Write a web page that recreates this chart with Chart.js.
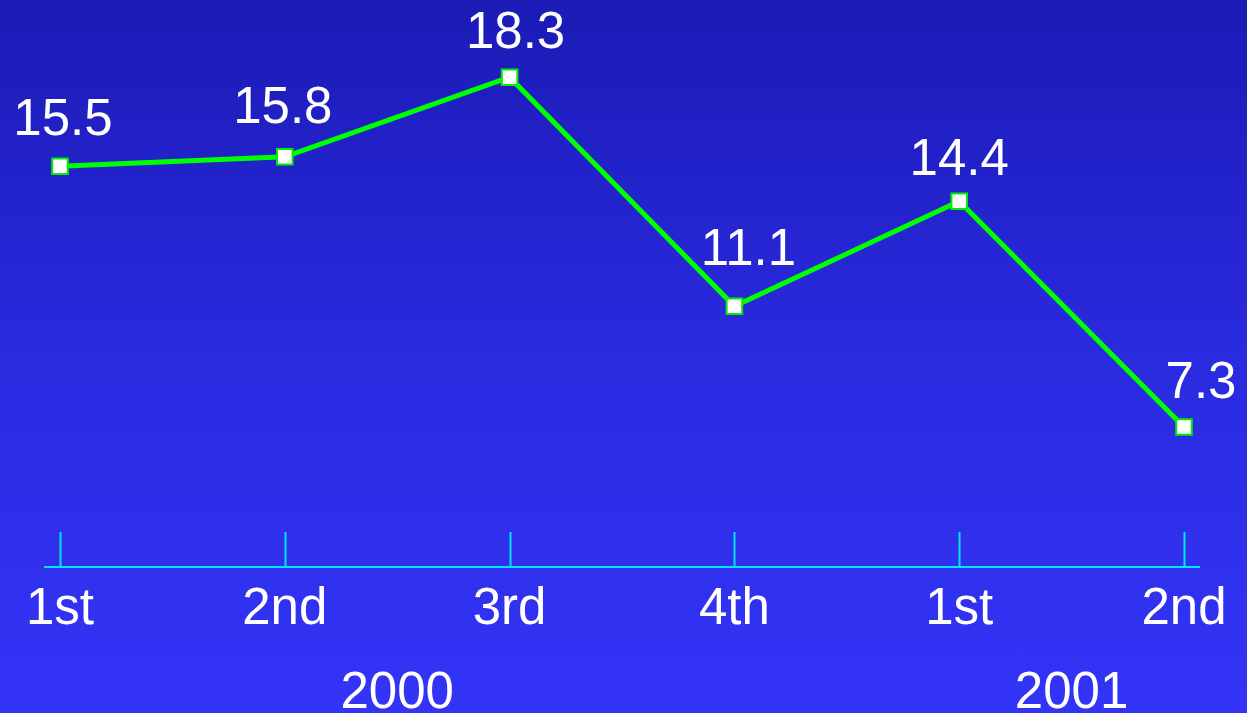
<!DOCTYPE html>
<html>
<head>
<meta charset="utf-8">
<script src="https://cdn.jsdelivr.net/npm/chart.js@4"></script>
<style>
  html, body { margin: 0; padding: 0; }
  body {
    width: 1247px; height: 713px; overflow: hidden;
    background: linear-gradient(to bottom, #1b1bb6 0%, #2a2ae0 50%, #3434f8 100%);
  }
  #wrap { width: 1247px; height: 713px; }
</style>
</head>
<body>
<div id="wrap"><canvas id="grafico"></canvas></div>
<script>
// quarters and values
const quarters = ['1st', '2nd', '3rd', '4th', '1st', '2nd'];
const valores = [15.5, 15.8, 18.3, 11.1, 14.4, 7.3];
const years = ['2000', '2001'];
const yearPos = [1.5, 4.5]; // centred under each year's quarters

const fuente = 'Liberation Sans, Arial, sans-serif';

// axis line + upward tick marks
const ejePlugin = {
    id: 'eje',
    afterDatasetsDraw(chart) {
        const ctx = chart.ctx;
        const x = chart.scales.x;
        const yb = chart.chartArea.bottom;
        ctx.save();
        ctx.strokeStyle = '#00e5f0';
        ctx.lineWidth = 2;
        ctx.beginPath();
        ctx.moveTo(x.left - 16, yb + 1);
        ctx.lineTo(x.right + 16, yb + 1);
        x.ticks.forEach((t, i) => {
            const px = Math.round(x.getPixelForTick(i)) + 0.5;
            ctx.moveTo(px, yb + 1);
            ctx.lineTo(px, yb - 34);
        });
        ctx.stroke();
        ctx.restore();
    }
};

// value labels above the points (small nudges like the original)
const ajusteX = [3, -2, 6, 14, 0, 17];
const ajusteY = [31, 34, 29, 41, 26, 29];
const etiquetasPlugin = {
    id: 'etiquetas',
    afterDatasetsDraw(chart) {
        const ctx = chart.ctx;
        const meta = chart.getDatasetMeta(0);
        ctx.save();
        ctx.font = '51px ' + fuente;
        ctx.fillStyle = '#ffffff';
        ctx.textBaseline = 'alphabetic';
        ctx.textAlign = 'center';
        meta.data.forEach((p, i) => {
            ctx.fillText(String(valores[i]), p.x + ajusteX[i], p.y - ajusteY[i]);
        });
        ctx.restore();
    }
};

new Chart(document.getElementById('grafico'), {
    type: 'line',
    data: {
        labels: quarters,
        datasets: [{
            data: valores,
            borderColor: '#00ff00',
            borderWidth: 5,
            pointStyle: 'rect',
            pointRadius: 11,
            pointBackgroundColor: '#ffffff',
            pointBorderColor: '#00ee00',
            pointBorderWidth: 2,
            tension: 0
        }]
    },
    options: {
        responsive: true,
        maintainAspectRatio: false,
        animation: false,
        layout: { padding: { left: 60, right: 63, top: 0, bottom: 0 } },
        plugins: { legend: { display: false }, tooltip: { enabled: false } },
        scales: {
            y: { display: false, min: 2.93, max: 20.32 },
            x: {
                type: 'category',
                offset: false,
                grid: { display: false },
                border: { display: false },
                ticks: {
                    color: '#ffffff',
                    font: { family: fuente, size: 51 },
                    padding: 5,
                    maxRotation: 0,
                    autoSkip: false
                },
                afterFit(s) { s.height = 75; }
            },
            x2: {
                type: 'linear',
                position: 'bottom',
                min: 0,
                max: 5,
                grid: { display: false },
                border: { display: false },
                afterBuildTicks(s) { s.ticks = yearPos.map(v => ({ value: v })); },
                ticks: {
                    color: '#ffffff',
                    font: { family: fuente, size: 51 },
                    padding: 14,
                    maxRotation: 0,
                    autoSkip: false,
                    callback: v => years[yearPos.indexOf(v)]
                },
                afterFit(s) { s.height = 72; }
            }
        }
    },
    plugins: [ejePlugin, etiquetasPlugin]
});
</script>
</body>
</html>
